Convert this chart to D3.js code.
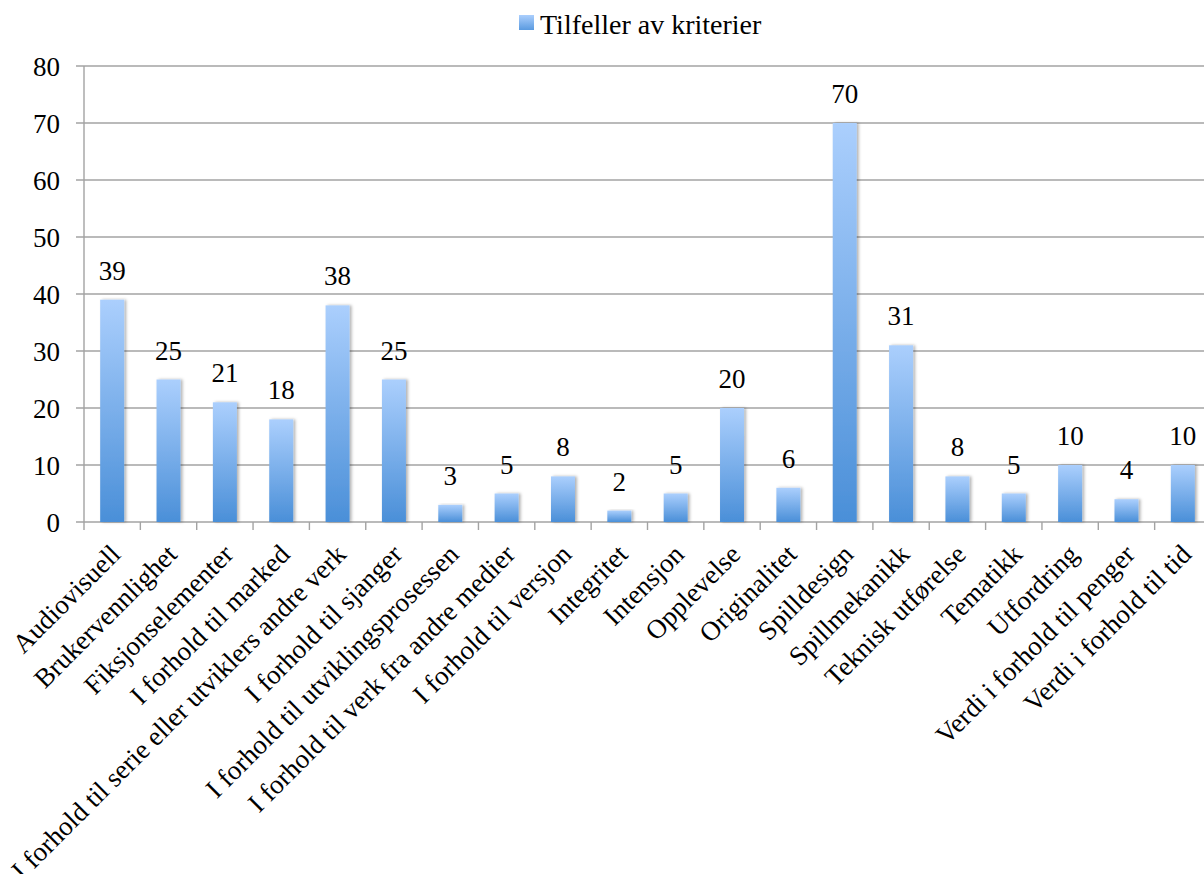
<!DOCTYPE html>
<html>
<head>
<meta charset="utf-8">
<script src="https://cdn.jsdelivr.net/npm/d3@7"></script>
<style>
  body { margin: 0; background: #fff; }
  svg { display: block; }
</style>
</head>
<body>
<svg id="chart"></svg>
<script>
const categories = [
  'Audiovisuell', 'Brukervennlighet', 'Fiksjonselementer', 'I forhold til marked',
  'I forhold til serie eller utviklers andre verk', 'I forhold til sjanger',
  'I forhold til utviklingsprosessen', 'I forhold til verk fra andre medier',
  'I forhold til versjon', 'Integritet', 'Intensjon', 'Opplevelse', 'Originalitet',
  'Spilldesign', 'Spillmekanikk', 'Teknisk utførelse', 'Tematikk', 'Utfordring',
  'Verdi i forhold til penger', 'Verdi i forhold til tid'
];
const values = [39, 25, 21, 18, 38, 25, 3, 5, 8, 2, 5, 20, 6, 70, 31, 8, 5, 10, 4, 10];
const yTicks = [0, 10, 20, 30, 40, 50, 60, 70, 80];
const seriesName = 'Tilfeller av kriterier';

const width = 1204, height = 874;
const plotLeft = 84, plotRight = 1211, plotTop = 66, plotBottom = 522;
const serif = '"Liberation Serif", "Times New Roman", serif';
const gridColor = '#a3a3a3';

const svg = d3.select('#chart')
  .attr('width', width)
  .attr('height', height);

const defs = svg.append('defs');
const grad = defs.append('linearGradient')
  .attr('id', 'barGrad')
  .attr('x1', 0).attr('y1', 0).attr('x2', 0).attr('y2', 1);
grad.append('stop').attr('offset', '0%').attr('stop-color', '#abcffd');
grad.append('stop').attr('offset', '100%').attr('stop-color', '#4a8fd8');

const legendGrad = defs.append('linearGradient')
  .attr('id', 'legendGrad')
  .attr('x1', 0).attr('y1', 0).attr('x2', 0).attr('y2', 1);
legendGrad.append('stop').attr('offset', '0%').attr('stop-color', '#abcffd');
legendGrad.append('stop').attr('offset', '100%').attr('stop-color', '#5a9ae0');

const shadow = defs.append('filter')
  .attr('id', 'shadow')
  .attr('x', '-30%').attr('y', '-10%')
  .attr('width', '160%').attr('height', '120%');
shadow.append('feDropShadow')
  .attr('dx', 2).attr('dy', 0)
  .attr('stdDeviation', 1.6)
  .attr('flood-color', '#000')
  .attr('flood-opacity', 0.3);

const x = d3.scaleBand()
  .domain(categories)
  .range([plotLeft, plotRight])
  .padding(0);

const y = d3.scaleLinear()
  .domain([0, 80])
  .range([plotBottom, plotTop]);

// gridlines
svg.append('g')
  .selectAll('line.grid')
  .data(yTicks)
  .enter()
  .append('line')
  .attr('class', 'grid')
  .attr('x1', plotLeft - 8)
  .attr('x2', plotRight)
  .attr('y1', d => y(d))
  .attr('y2', d => y(d))
  .attr('stroke', gridColor)
  .attr('stroke-width', 1.4);

// y axis labels
const yAxis = svg.append('g')
  .attr('transform', `translate(${plotLeft},0)`)
  .call(d3.axisLeft(y).tickValues(yTicks).tickSize(8).tickPadding(16));
yAxis.select('.domain').remove();
yAxis.selectAll('.tick line').remove();
yAxis.selectAll('.tick text')
  .style('font-family', serif)
  .style('font-size', '27px')
  .attr('fill', '#000')
  .attr('dy', '0.34em');

// y axis line
svg.append('line')
  .attr('x1', plotLeft).attr('x2', plotLeft)
  .attr('y1', plotTop).attr('y2', plotBottom)
  .attr('stroke', gridColor)
  .attr('stroke-width', 1.4);

// x ticks at band edges
const edges = categories.map(c => x(c)).concat([plotRight]);
svg.append('g')
  .selectAll('line.xtick')
  .data(edges)
  .enter()
  .append('line')
  .attr('x1', d => d).attr('x2', d => d)
  .attr('y1', plotBottom).attr('y2', plotBottom + 8)
  .attr('stroke', gridColor)
  .attr('stroke-width', 1.4);

// bars
const barW = 24;
svg.append('g')
  .selectAll('rect.bar')
  .data(values)
  .enter()
  .append('rect')
  .attr('class', 'bar')
  .attr('x', (d, i) => x(categories[i]) + (x.bandwidth() - barW) / 2)
  .attr('y', d => y(d))
  .attr('width', barW)
  .attr('height', d => plotBottom - y(d))
  .attr('fill', 'url(#barGrad)')
  .attr('filter', 'url(#shadow)');

// value labels
svg.append('g')
  .selectAll('text.val')
  .data(values)
  .enter()
  .append('text')
  .attr('class', 'val')
  .attr('x', (d, i) => x(categories[i]) + x.bandwidth() / 2)
  .attr('y', d => y(d) - 20)
  .attr('text-anchor', 'middle')
  .style('font-family', serif)
  .style('font-size', '27px')
  .attr('fill', '#000')
  .text(d => d);

// category labels
svg.append('g')
  .selectAll('text.cat')
  .data(categories)
  .enter()
  .append('text')
  .attr('class', 'cat')
  .attr('transform', d => `translate(${x(d) + x.bandwidth() / 2 + 10},${plotBottom + 34}) rotate(-45)`)
  .attr('text-anchor', 'end')
  .style('font-family', serif)
  .style('font-size', '27px')
  .attr('fill', '#000')
  .text(d => d);

// legend
const legend = svg.append('g');
legend.append('rect')
  .attr('x', 519).attr('y', 15)
  .attr('width', 15).attr('height', 15)
  .attr('fill', 'url(#legendGrad)');
legend.append('text')
  .attr('x', 540).attr('y', 34)
  .style('font-family', serif)
  .style('font-size', '28px')
  .attr('fill', '#000')
  .text(seriesName);
</script>
</body>
</html>
